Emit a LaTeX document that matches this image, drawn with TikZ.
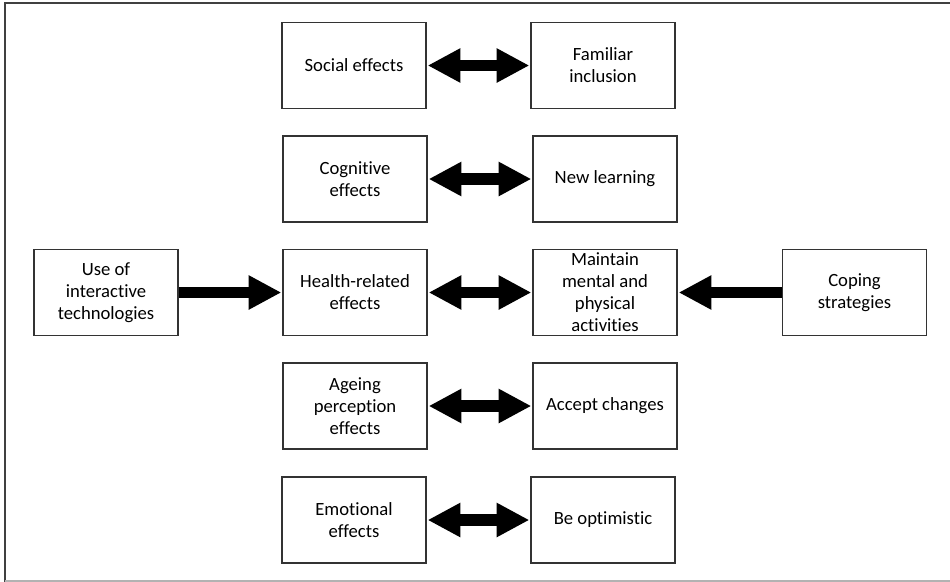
\documentclass[tikz,border=0pt]{standalone}
\usepackage{fontspec}
\setmainfont{Carlito}[Ligatures=NoCommon]
\usetikzlibrary{arrows.meta}
\tikzset{
  box/.style={draw=black!80, line width=1.1pt, minimum width=108pt,
    minimum height=64.5pt, inner sep=0pt, align=center,
    font=\fontsize{14}{16.5}\selectfont},
  fattip/.tip={Triangle[length=24pt,width=26pt,line width=0pt]},
  oneway/.style={line width=8.5pt, -fattip, shorten >=1.2pt},
  twoway/.style={line width=8.5pt, fattip-fattip, shorten >=1.2pt, shorten <=1.2pt}
}
\begin{document}
\begin{tikzpicture}[x=0.75pt,y=-0.75pt]
\useasboundingbox (0,0) rectangle (950,582);
% frame
\draw[black!75, line width=1.6pt] (5,582) -- (5,3) -- (950,3);
\draw[black!30, line width=1.6pt] (5,581) -- (950,581);

% left column
\node[box] (soc) at (354,65.5) {Social effects};
\node[box] (cog) at (355,179) {Cognitive\\effects};
\node[box] (hea) at (355,292.5) {Health-related\\effects};
\node[box] (age) at (355,406) {Ageing\\perception\\effects};
\node[box] (emo) at (354,520) {Emotional\\effects};

% right column
\node[box] (fam) at (603,65.5) {Familiar\\inclusion};
\node[box] (new) at (605,179) {New learning};
\node[box] (mai) at (605,292.5) {Maintain\\mental and\\physical\\activities};
\node[box] (acc) at (605,406) {Accept changes};
\node[box] (opt) at (603,520) {Be optimistic};

% outer boxes
\node[box] (use) at (106,292.5) {Use of\\interactive\\technologies};
\node[box] (cop) at (854.5,292.5) {Coping\\strategies};

% connectors
\draw[twoway] (soc.east) -- (fam.west);
\draw[twoway] (cog.east) -- (new.west);
\draw[twoway] (hea.east) -- (mai.west);
\draw[twoway] (age.east) -- (acc.west);
\draw[twoway] (emo.east) -- (opt.west);
\draw[oneway] (use.east) -- (hea.west);
\draw[oneway] (cop.west) -- (mai.east);
\end{tikzpicture}
\end{document}
